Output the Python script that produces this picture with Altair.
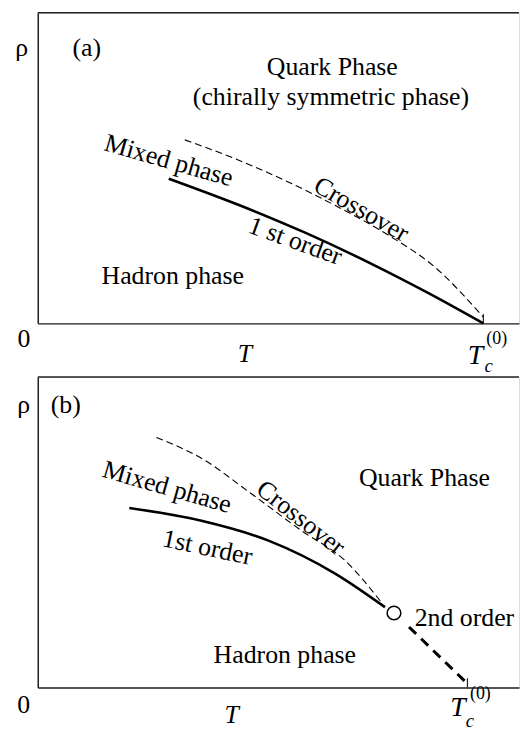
import altair as alt
import pandas as pd

# ---------------- data (T in units of Tc^(0), rho normalised) ----------------
TC = 1.0
XMAX_A = 1.08
XMAX_B = 1.12

# Panel (a)
a_first_T = [0.294, 0.45, 0.60, 0.75, 0.88, 1.0]
a_first_rho = [0.466, 0.382, 0.292, 0.191, 0.095, 0.0]
a_cross_T = [0.330, 0.443, 0.555, 0.667, 0.780, 0.892, 1.0]
a_cross_rho = [0.591, 0.530, 0.460, 0.380, 0.290, 0.180, 0.02]

# Panel (b)
b_first_T = [0.213, 0.381, 0.537, 0.692, 0.808]
b_first_rho = [0.578, 0.537, 0.473, 0.367, 0.259]
b_cross_T = [0.276, 0.381, 0.498, 0.614, 0.715, 0.801]
b_cross_rho = [0.805, 0.738, 0.623, 0.505, 0.409, 0.272]
b_second_T = [0.864, 0.995]
b_second_rho = [0.195, 0.019]
b_crit_T = [0.829]
b_crit_rho = [0.240]

# Annotations (text, T, rho, angle, kind)
a_labels = [
    ("ρ", -0.036, 0.888, 0, "n"),
    ("(a)", 0.110, 0.888, 0, "n"),
    ("Quark Phase", 0.661, 0.824, 0, "n"),
    ("(chirally symmetric phase)", 0.658, 0.728, 0, "n"),
    ("Mixed phase", 0.294, 0.524, 16, "n"),
    ("Crossover", 0.726, 0.367, 30, "n"),
    ("1 st  order", 0.578, 0.265, 20, "n"),
    ("Hadron phase", 0.303, 0.153, 0, "n"),
    ("0", -0.031, -0.051, 0, "n"),
    ("T", 0.465, -0.099, 0, "i"),
    ("T", 0.982, -0.105, 0, "ti"),
    ("(0)", 1.030, -0.051, 0, "s"),
    ("c", 1.012, -0.136, 0, "si"),
]
b_labels = [
    ("ρ", -0.033, 0.911, 0, "n"),
    ("(b)", 0.065, 0.911, 0, "n"),
    ("Quark Phase", 0.900, 0.674, 0, "n"),
    ("Mixed phase", 0.301, 0.645, 16, "n"),
    ("Crossover", 0.612, 0.546, 38, "n"),
    ("1st  order", 0.395, 0.450, 12, "n"),
    ("2nd order", 0.993, 0.224, 0, "n"),
    ("Hadron phase", 0.575, 0.105, 0, "n"),
    ("0", -0.033, -0.058, 0, "n"),
    ("T", 0.451, -0.090, 0, "i"),
    ("T", 0.978, -0.066, 0, "ti"),
    ("(0)", 1.030, -0.020, 0, "s"),
    ("c", 1.006, -0.108, 0, "si"),
]

FONT = "'Liberation Serif', 'Times New Roman', Times, serif"
W, H = 485, 313


def df_xy(xs, ys):
    return pd.DataFrame({"T": xs, "rho": ys})


def panel(xmax, first, cross, labels, second=None, crit=None):
    xs = alt.Scale(domain=[0, xmax], nice=False, zero=False)
    ys = alt.Scale(domain=[0, 1], nice=False, zero=False)
    ax = alt.Axis(ticks=False, labels=False, grid=False, title=None,
                  domainColor="#222", domainWidth=1.5)
    X = lambda f="T": alt.X(f"{f}:Q", scale=xs, axis=ax)
    Y = lambda f="rho": alt.Y(f"{f}:Q", scale=ys, axis=ax)

    top = alt.Chart(pd.DataFrame({"T": [0], "T2": [xmax], "rho": [1]})).mark_rule(
        color="#222", strokeWidth=1.5).encode(x=X(), x2="T2:Q", y=Y())
    tick = alt.Chart(pd.DataFrame({"T": [TC], "rho": [0], "rho2": [0.03]})).mark_rule(
        color="#222", strokeWidth=1.2).encode(x=X(), y=Y(), y2="rho2:Q")
    l1 = alt.Chart(first).mark_line(color="black", strokeWidth=2.6,
                                    interpolate="monotone").encode(x=X(), y=Y())
    l2 = alt.Chart(cross).mark_line(color="black", strokeWidth=1.1, strokeDash=[7, 4],
                                    interpolate="monotone").encode(x=X(), y=Y())
    layers = [top, tick, l2, l1]
    if second is not None:
        layers.append(alt.Chart(second).mark_line(
            color="black", strokeWidth=3, strokeDash=[10, 7]).encode(x=X(), y=Y()))
    if crit is not None:
        layers.append(alt.Chart(crit).mark_point(
            shape="circle", size=190, filled=True, fill="white", stroke="black",
            strokeWidth=1.5, opacity=1).encode(x=X(), y=Y()))

    ldf = pd.DataFrame(labels, columns=["label", "T", "rho", "angle", "kind"])
    specs = {"n": (26, "normal"), "i": (26, "italic"), "ti": (28, "italic"),
             "s": (18, "normal"), "si": (19, "italic")}
    for kind, (fs, style) in specs.items():
        sub = ldf[ldf["kind"] == kind]
        if len(sub) == 0:
            continue
        layers.append(alt.Chart(sub).mark_text(
            font=FONT, fontSize=fs, fontStyle=style, color="black",
            align="center", baseline="middle").encode(
            x=X(), y=Y(), text="label:N",
            angle=alt.Angle("angle:Q", scale=None)))
    return alt.layer(*layers).properties(width=W, height=H)


pa = panel(XMAX_A, df_xy(a_first_T, a_first_rho), df_xy(a_cross_T, a_cross_rho), a_labels)
pb = panel(XMAX_B, df_xy(b_first_T, b_first_rho), df_xy(b_cross_T, b_cross_rho), b_labels,
           second=df_xy(b_second_T, b_second_rho), crit=df_xy(b_crit_T, b_crit_rho))

chart = alt.vconcat(pa, pb, spacing=54, bounds="flush").properties(
    padding={"left": 6, "top": 0, "right": 0, "bottom": 0}
).configure_view(strokeWidth=0).configure(background="white")

chart.save("out.html", embed_options={"renderer": "svg", "actions": False})
